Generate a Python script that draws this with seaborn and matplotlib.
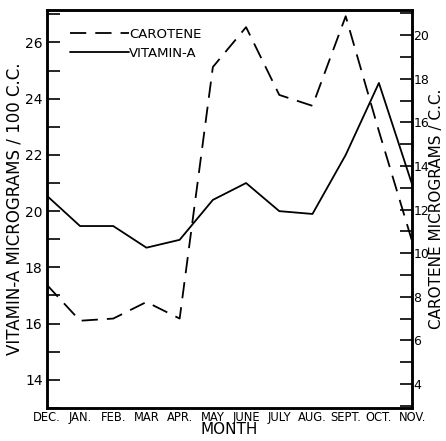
import matplotlib
matplotlib.use('Agg')
import matplotlib.pyplot as plt
import seaborn as sns
import pandas as pd
from matplotlib.lines import Line2D
from matplotlib.ticker import MultipleLocator

MONTHS = ["DEC.", "JAN.", "FEB.", "MAR", "APR.", "MAY", "JUNE", "JULY",
          "AUG.", "SEPT.", "OCT.", "NOV."]
VITAMIN_A = [20.55, 19.47, 19.47, 18.7, 18.98, 20.4, 21.0, 20.0, 19.9, 22.0, 24.56, 20.95]
CAROTENE = [8.55, 6.9, 7.0, 7.76, 7.0, 18.54, 20.37, 17.26, 16.76, 20.87, 15.6, 10.55]

sns.set_style("white")
plt.rcParams['font.family'] = ['DejaVu Sans']
plt.rcParams.update({"text.color": "black", "axes.labelcolor": "black",
                     "xtick.color": "black", "ytick.color": "black"})

DASH = (0, (9, 5))

df = pd.DataFrame({"pos": range(len(MONTHS)), "month": MONTHS,
                   "vitamin_a": VITAMIN_A, "carotene": CAROTENE})

fig = plt.figure(figsize=(4.46, 4.41), dpi=100)
ax = fig.add_axes([0.105, 0.075, 0.819, 0.902])
ax2 = ax.twinx()

sns.lineplot(data=df, x="pos", y="vitamin_a", ax=ax, color="black", lw=1.3)
sns.lineplot(data=df, x="pos", y="carotene", ax=ax2, color="black", lw=1.3,
             linestyle=DASH)

ax.set_xlim(0, 11)
ax.set_ylim(13.0, 27.15)
ax2.set_ylim(2.9, 21.15)

ax.set_xticks(df["pos"])
ax.set_xticklabels(MONTHS, fontsize=8.3)
ax.yaxis.set_minor_locator(MultipleLocator(1))
ax2.yaxis.set_minor_locator(MultipleLocator(1))
ax.set_yticks(range(14, 27, 2))
ax2.set_yticks(range(4, 21, 2))

ax.tick_params(axis="x", direction="in", length=8, width=1, pad=2)
ax.tick_params(axis="y", which="both", direction="in", length=9, width=1.2,
               labelsize=10, pad=3)
ax2.tick_params(axis="y", which="both", direction="in", length=9, width=1.2,
                labelsize=9, pad=1)

for a in (ax, ax2):
    for sp in a.spines.values():
        sp.set_linewidth(1.8)
        sp.set_color("black")

ax.set_xlabel("MONTH", fontsize=11, labelpad=-1)
ax.set_ylabel("VITAMIN-A MICROGRAMS / 100 C.C.", fontsize=12, labelpad=1)
ax2.set_ylabel("CAROTENE MICROGRAMS / C.C.", fontsize=11, labelpad=0)

handles = [Line2D([], [], color="black", lw=1.3, linestyle=DASH),
           Line2D([], [], color="black", lw=1.3)]
ax.legend(handles, ["CAROTENE", "VITAMIN-A"], loc="upper left",
          bbox_to_anchor=(0.03, 0.985), frameon=False, fontsize=9.5,
          handlelength=4.5, handletextpad=0.0, labelspacing=0.45)

fig.savefig("out.png", dpi=100)
